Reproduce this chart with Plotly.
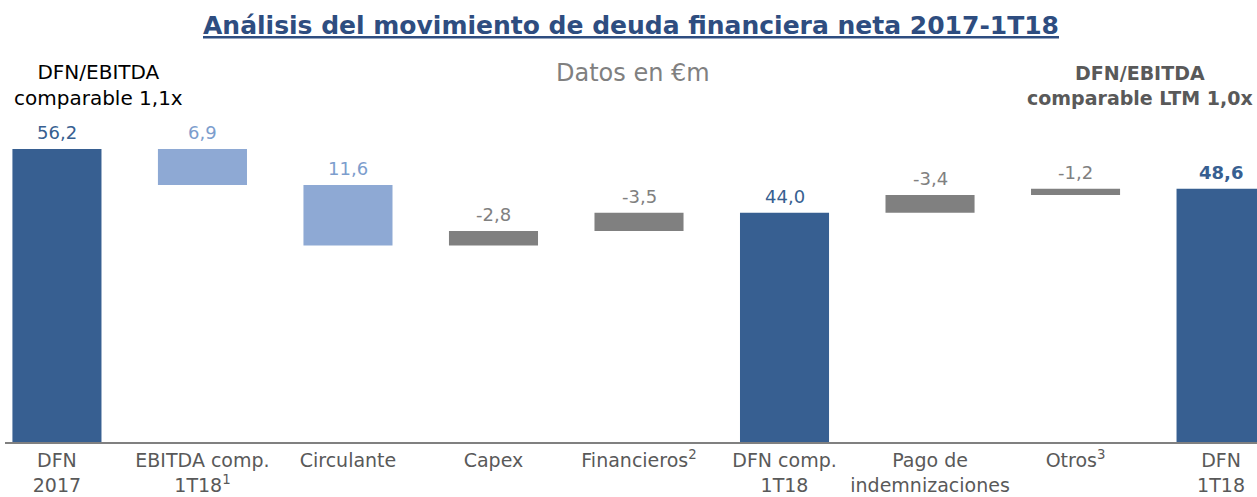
import plotly.graph_objects as go

categories = ["DFN<br>2017", "EBITDA comp.<br>1T18<sup>1</sup>", "Circulante", "Capex",
              "Financieros<sup>2</sup>", "DFN comp.<br>1T18", "Pago de<br>indemnizaciones",
              "Otros<sup>3</sup>", "DFN<br>1T18"]
# change in net debt (positive = debt up); totals flagged
measures = ["absolute", "relative", "relative", "relative", "relative", "total", "relative", "relative", "total"]
values = [56.2, -6.9, -11.6, 2.8, 3.5, 44.0, 3.4, 1.2, 48.6]
labels = ["56,2", "6,9", "11,6", "-2,8", "-3,5", "44,0", "-3,4", "-1,2", "<b>48,6</b>"]

DARK = "#375F91"
LIGHT = "#8EA9D4"
LIGHT_TXT = "#7C9DCD"
GRAY = "#808080"

bases, heights, colors, tcolors, tops = [], [], [], [], []
running = 0.0
for m, v in zip(measures, values):
    if m in ("absolute", "total"):
        running = v
        bases.append(0); heights.append(v); colors.append(DARK); tcolors.append(DARK)
        tops.append(v)
    else:
        lo = min(running, running + v)
        bases.append(lo); heights.append(abs(v))
        colors.append(LIGHT if v < 0 else GRAY)
        tcolors.append(LIGHT_TXT if v < 0 else GRAY)
        running += v
        tops.append(lo + abs(v))

FONT = "DejaVu Sans"
fig = go.Figure()
fig.add_trace(go.Bar(x=categories, y=heights, base=bases, marker_color=colors,
                     marker_line_width=0, width=0.612, hoverinfo="skip"))

for c, t, lab, tc in zip(categories, tops, labels, tcolors):
    fig.add_annotation(x=c, y=t, text=lab, showarrow=False, yanchor="bottom", yshift=4,
                       font=dict(family=FONT, size=18, color=tc))

fig.add_annotation(xref="paper", yref="paper", x=0.5, y=1, yanchor="middle", xanchor="center",
                   yshift=35,
                   text="<b><u>Análisis del movimiento de deuda financiera neta 2017-1T18</u></b>",
                   showarrow=False, font=dict(family=FONT, size=25, color="#2E4D80"))
fig.add_annotation(xref="paper", yref="paper", x=0.5016, y=1, yanchor="middle", xanchor="center",
                   yshift=-13, text="Datos en €m", showarrow=False,
                   font=dict(family=FONT, size=24, color="#808080"))
fig.add_annotation(xref="paper", yref="paper", x=0.0743, y=1, yanchor="middle", xanchor="center",
                   yshift=-25, text="DFN/EBITDA<br>comparable 1,1x", showarrow=False, align="center",
                   font=dict(family=FONT, size=20, color="#000000"))
fig.add_annotation(xref="paper", yref="paper", x=0.9066, y=1, yanchor="middle", xanchor="center",
                   yshift=-25, text="<b>DFN/EBITDA<br>comparable LTM 1,0x</b>", showarrow=False,
                   align="center", font=dict(family=FONT, size=19, color="#595959"))

fig.update_layout(
    width=1257, height=497,
    margin=dict(l=5, r=0, t=60, b=55),
    paper_bgcolor="white", plot_bgcolor="white",
    showlegend=False,
    xaxis=dict(range=[-0.357, 8.247], showline=True, linecolor="#808080", linewidth=2,
               tickfont=dict(family=FONT, size=19, color="#595959"), ticks="", showgrid=False,
               ticklabelstandoff=0, automargin=False),
    yaxis=dict(range=[0, 73.3], visible=False, showgrid=False, automargin=False),
)
fig.write_html("out.html", config={"displayModeBar": False},
               post_script="document.body.style.margin='0';document.body.style.overflow='hidden';")
